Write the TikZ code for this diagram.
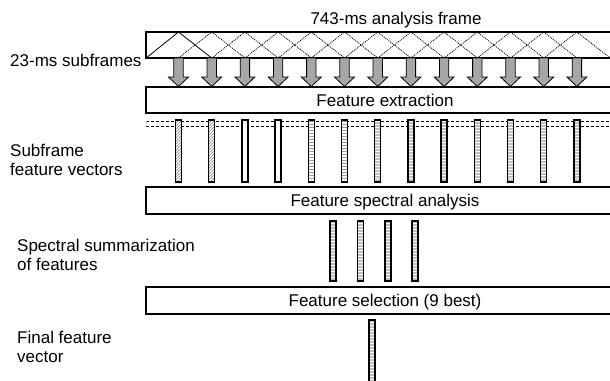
\documentclass[tikz,border=0pt]{standalone}
\usepackage{fontspec}
\setmainfont{Liberation Sans}
\usetikzlibrary{patterns}
\def\subvec[#1](#2:#3:#4){\draw[vec,#1] ({#2-3},#3) rectangle ({#2+3},#4)}
\def\downarrow(#1){\draw[line width=0.8pt,fill=black!35] ({#1-4.7},58) -- ({#1-4.7},77) -- ({#1-10},77) -- (#1,86.5) -- ({#1+10},77) -- ({#1+4.7},77) -- ({#1+4.7},58) -- cycle}
\tikzset{
  every node/.style={font=\fontsize{17}{18.5}\selectfont},
  box/.style={draw,line width=1.2pt,minimum width=478pt,inner sep=0pt,text height=12pt,text depth=0pt},
  lbl/.style={anchor=north west,inner sep=0pt,align=left},
  vec/.style={line width=1.5pt},
  vhatch/.style={preaction={fill=white},pattern=north east lines,pattern color=gray},
  vplain/.style={fill=white},
  vlines/.style={preaction={fill=white},pattern=horizontal lines,pattern color=gray!80},
  vdark/.style={preaction={fill=gray!50},pattern=horizontal lines,pattern color=white},
  dsh/.style={line width=0.7pt,dash pattern=on 3pt off 2pt}
}

\begin{document}
\begin{tikzpicture}[x=1pt,y=-1pt]
    \useasboundingbox (0,0) rectangle (610,380);
    \node[anchor=north,inner sep=0pt] (title) at (396,12) {743-ms analysis frame};
    \node[box,minimum height=26pt] (frame) at (385,45) {};
    \node[box,minimum height=26pt] (extract) at (385,100) {Feature extraction};
    \node[box,minimum height=27pt] (spectral) at (385,200.5) {Feature spectral analysis};
    \node[box,minimum height=27pt] (select) at (385,300.5) {Feature selection (9 best)};
    \node[lbl] (sublbl) at (10,54) {23-ms subframes};
    \node[lbl] (veclbl) at (10,144) {Subframe\\feature vectors};
    \node[lbl] (sumlbl) at (17,239) {Spectral summarization\\of features};
    \node[lbl] (finlbl) at (17,331) {Final feature\\vector};
    \draw[line width=0.8pt] (frame.south west) -- (178.5,32) -- (211.7,58);
    \foreach \k in {1,...,12}
        \draw[line width=0.8pt,dash pattern=on 1pt off 1pt] ({145.3+33.2*\k},58) -- ({178.5+33.2*\k},32) -- ({211.7+33.2*\k},58);
    \foreach \k in {0,...,12}
        \downarrow({178.5+33.2*\k});
    \draw[dsh] (146,121) -- (640,121);
    \draw[dsh] (146,126) -- (640,126);
    \draw[dsh,gray!50] (146,121) -- (146,126);
    \foreach \k/\f in {0/vhatch,1/vhatch,2/vplain,3/vplain,4/vlines,5/vlines,6/vdark,7/vdark,8/vdark,9/vdark,10/vdark,11/vdark,12/vdark}
        \subvec[\f]({178.5+33.2*\k}:120:182);
    \foreach \x in {333,360.5,388,415}
        \subvec[vdark](\x:221:281);
    \subvec[vdark](372:320:390);
\end{tikzpicture}
\end{document}
